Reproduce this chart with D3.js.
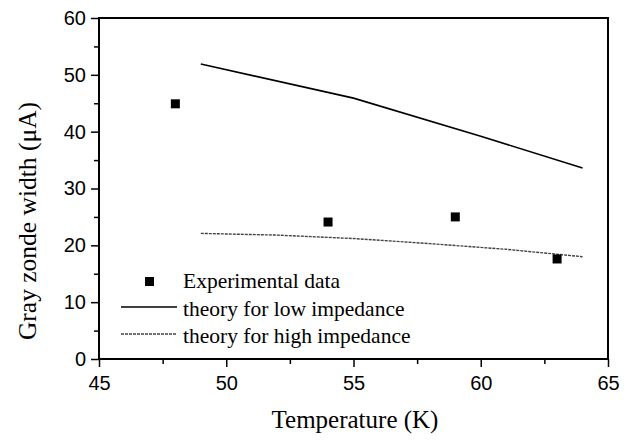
<!DOCTYPE html>
<html>
<head>
<meta charset="utf-8">
<script src="https://cdnjs.cloudflare.com/ajax/libs/d3/7.8.5/d3.min.js"></script>
<style>
  body { margin: 0; background: #fff; }
  .tick text { font-family: "Liberation Sans", Arial, sans-serif; }
</style>
</head>
<body>
<div id="chart"></div>
<script>
// experimental points
var expTemp = [48, 54, 59, 63];
var expWidth = [44.9, 24.1, 25.0, 17.6];

// theory curves
var lowTemp = [49, 55, 60, 64];
var lowWidth = [51.9, 45.9, 39.2, 33.6];
var highTemp = [49, 52, 55, 58, 61, 64];
var highWidth = [22.1, 21.8, 21.2, 20.3, 19.3, 18.0];

var legendLabels = ['Experimental data', 'theory for low impedance', 'theory for high impedance'];
var xTicks = [45, 50, 55, 60, 65];
var yTicks = [0, 10, 20, 30, 40, 50, 60];

var width = 632, height = 441;
var margin = { top: 18, right: 24, bottom: 82, left: 99 };
var w = 608 - margin.left;
var h = 359 - margin.top;

var svg = d3.select('#chart')
  .append('svg')
  .attr('width', width)
  .attr('height', height);

var g = svg.append('g')
  .attr('transform', 'translate(' + margin.left + ',' + margin.top + ')');

var x = d3.scaleLinear().domain([45, 65]).range([0, w]);
var y = d3.scaleLinear().domain([0, 60]).range([h, 0]);

// minor ticks first, then major
g.append('g')
  .attr('transform', 'translate(0,' + h + ')')
  .call(d3.axisBottom(x).tickValues(d3.range(47.5, 65, 5)).tickSize(5).tickFormat(''))
  .call(function(a) { a.select('.domain').remove(); })
  .selectAll('line').attr('stroke-width', 1.5);
g.append('g')
  .call(d3.axisLeft(y).tickValues(d3.range(5, 60, 10)).tickSize(5).tickFormat(''))
  .call(function(a) { a.select('.domain').remove(); })
  .selectAll('line').attr('stroke-width', 1.5);

var xAxis = g.append('g')
  .attr('transform', 'translate(0,' + h + ')')
  .call(d3.axisBottom(x).tickValues(xTicks).tickSize(8).tickPadding(9).tickSizeOuter(0));
var yAxis = g.append('g')
  .call(d3.axisLeft(y).tickValues(yTicks).tickSize(8).tickPadding(5).tickSizeOuter(0));

[xAxis, yAxis].forEach(function(a) {
  a.select('.domain').remove();
  a.selectAll('line').attr('stroke-width', 1.5);
  a.selectAll('text').attr('font-size', 20).attr('fill', '#000');
});

// frame
g.append('rect')
  .attr('width', w)
  .attr('height', h)
  .attr('fill', 'none')
  .attr('stroke', '#000')
  .attr('stroke-width', 2);

var line = d3.line()
  .x(function(d) { return x(d[0]); })
  .y(function(d) { return y(d[1]); });

g.append('path')
  .datum(d3.zip(lowTemp, lowWidth))
  .attr('d', line)
  .attr('fill', 'none')
  .attr('stroke', '#000')
  .attr('stroke-width', 1.6);

g.append('path')
  .datum(d3.zip(highTemp, highWidth))
  .attr('d', line)
  .attr('fill', 'none')
  .attr('stroke', '#444')
  .attr('stroke-width', 1.4)
  .attr('stroke-dasharray', '3,1');

var sq = 9;
g.selectAll('rect.pt')
  .data(d3.zip(expTemp, expWidth))
  .enter()
  .append('rect')
  .attr('class', 'pt')
  .attr('x', function(d) { return x(d[0]) - sq / 2; })
  .attr('y', function(d) { return y(d[1]) - sq / 2; })
  .attr('width', sq)
  .attr('height', sq)
  .attr('fill', '#000');

// legend
var leg = svg.append('g').attr('font-family', '"Liberation Serif", "Times New Roman", serif').attr('font-size', 21.5);
leg.append('rect').attr('x', 145).attr('y', 277).attr('width', sq).attr('height', sq).attr('fill', '#000');
leg.append('line').attr('x1', 121).attr('x2', 177).attr('y1', 307).attr('y2', 307)
  .attr('stroke', '#000').attr('stroke-width', 1.6);
leg.append('line').attr('x1', 121).attr('x2', 177).attr('y1', 334).attr('y2', 334)
  .attr('stroke', '#444').attr('stroke-width', 1.4).attr('stroke-dasharray', '3,1');
leg.selectAll('text')
  .data(legendLabels)
  .enter()
  .append('text')
  .attr('x', 183)
  .attr('y', function(d, i) { return 288 + i * 27.5; })
  .text(function(d) { return d; });

// axis titles
svg.append('text')
  .attr('x', 355)
  .attr('y', 428)
  .attr('text-anchor', 'middle')
  .attr('font-family', '"Liberation Serif", "Times New Roman", serif')
  .attr('font-size', 25)
  .text('Temperature (K)');

svg.append('text')
  .attr('transform', 'translate(36,221) rotate(-90)')
  .attr('text-anchor', 'middle')
  .attr('font-family', '"Liberation Serif", "Times New Roman", serif')
  .attr('font-size', 25.5)
  .text('Gray zonde width (\u03bcA)');
</script>
</body>
</html>
